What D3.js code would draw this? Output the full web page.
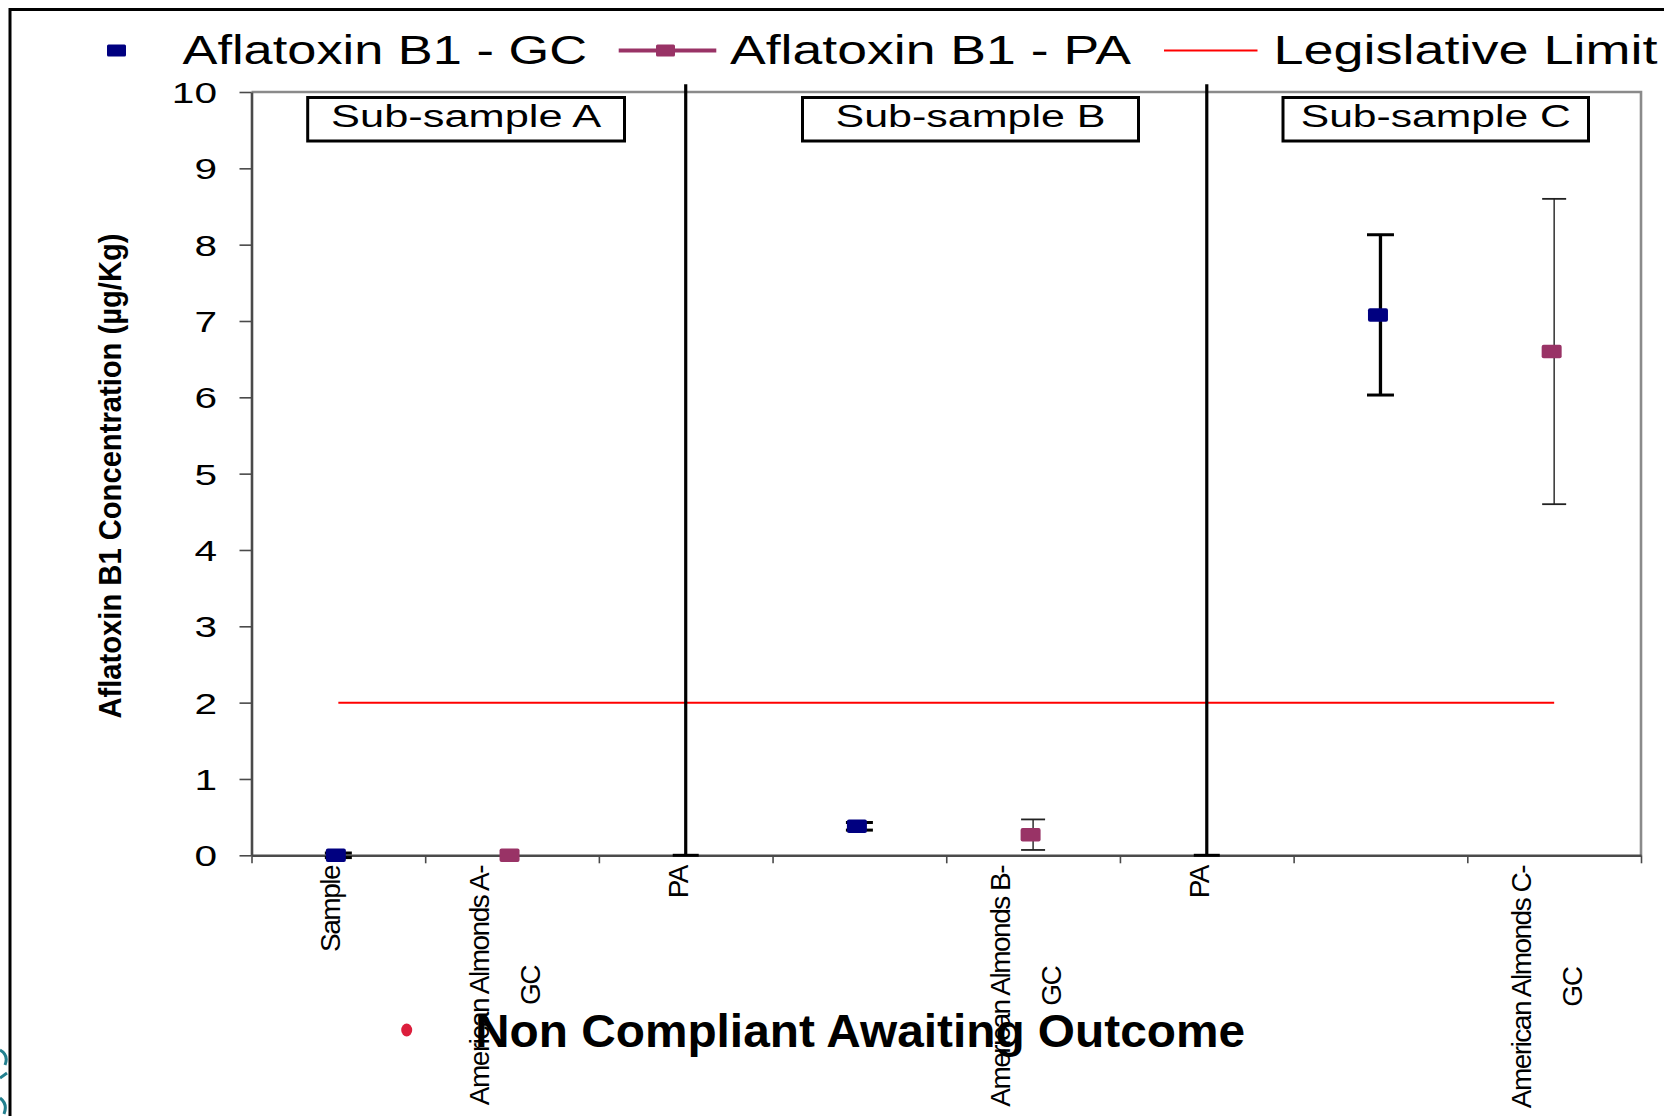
<!DOCTYPE html>
<html>
<head>
<meta charset="utf-8">
<script src="https://cdn.jsdelivr.net/npm/d3@7"></script>
<style>
  html, body { margin: 0; padding: 0; background: #fff; }
  svg { display: block; }
  text { font-family: Arial, "Liberation Sans", Helvetica, sans-serif; fill: #000; }
</style>
</head>
<body>
<svg id="chart" width="1664" height="1116"></svg>
<script>
// ---- data ----
const categoryLabels = [
  ["Sample"],
  ["American Almonds A-", "GC"],
  ["PA"],
  [],
  ["American Almonds B-", "GC"],
  ["PA"],
  [],
  ["American Almonds C-", "GC"]
];
const gcCategory = [0, 3, 6];
const gcValues   = [0, 0.38, 7.08];
const gcErrors   = [0.03, 0.05, 1.05];

const paCategory = [1, 4, 7];
const paValues   = [0, 0.27, 6.6];
const paErrors   = [0, 0.2, 2.0];

// sub-sample separators (drawn as zero-valued points with a plus-only error bar)
const dividerCategory = [2, 5];
const dividerValues   = [0, 0];
const dividerErrors   = [10.1, 10.1];

const legislativeLimit = 2;
const yTickValues = [0, 1, 2, 3, 4, 5, 6, 7, 8, 9, 10];
const subSampleLabels = ["Sub-sample A", "Sub-sample B", "Sub-sample C"];
const legendLabels = ["Aflatoxin B1 - GC", "Aflatoxin B1 - PA", "Legislative Limit"];
const yAxisTitle = "Aflatoxin B1 Concentration (µg/Kg)";
const noteText = "Non Compliant Awaiting Outcome";

// ---- layout ----
const COLORS = { gc: "#000080", pa: "#993366", limit: "#ff0000", axis: "#4a4a4a", border: "#8a8a8a", note: "#dc1e3c" };
const plot = { left: 251.5, right: 1641, top: 92, bottom: 855.3 };
const subSampleBoxes = [[307.7, 624.5], [802.5, 1138.5], [1283, 1588.5]];
const subSampleBoxY = [97.5, 141];

const svg = d3.select("#chart");

const x = d3.scaleBand().domain(d3.range(categoryLabels.length)).range([plot.left, plot.right]).padding(0);
const xEdge = d3.scaleLinear().domain([0, categoryLabels.length]).range([plot.left, plot.right]);
const y = d3.scaleLinear().domain([0, 10]).range([plot.bottom, plot.top]);
const cx = i => x(i) + x.bandwidth() / 2;

// outer frame of the slide panel
svg.append("rect")
  .attr("x", 10).attr("y", 9.5).attr("width", 2000).attr("height", 2000)
  .attr("fill", "none").attr("stroke", "#000").attr("stroke-width", 3);

// plot border (top & right)
svg.append("path")
  .attr("d", `M${plot.left},${plot.top}H${plot.right}V${plot.bottom}`)
  .attr("fill", "none").attr("stroke", COLORS.border).attr("stroke-width", 2.6);

// y axis
const gy = svg.append("g")
  .attr("transform", `translate(${plot.left},0)`)
  .call(d3.axisLeft(y).tickValues(yTickValues).tickSize(12).tickSizeOuter(0).tickFormat(d3.format("d")));
gy.select(".domain").attr("stroke", COLORS.axis).attr("stroke-width", 2.6);
gy.selectAll(".tick line").attr("stroke", COLORS.axis).attr("stroke-width", 1.6);
gy.selectAll(".tick text")
  .attr("x", null).attr("dy", "0.36em")
  .attr("text-anchor", "end")
  .attr("font-size", 29)
  .attr("fill", "#000")
  .attr("transform", "translate(-34.5,0) scale(1.4,1)");

// x axis (ticks on category boundaries)
const gx = svg.append("g")
  .attr("transform", `translate(0,${plot.bottom})`)
  .call(d3.axisBottom(xEdge).tickValues(d3.range(categoryLabels.length + 1)).tickSize(8).tickSizeOuter(0).tickFormat(""));
gx.select(".domain").attr("stroke", COLORS.axis).attr("stroke-width", 2.6);
gx.selectAll(".tick line").attr("stroke", COLORS.axis).attr("stroke-width", 1.6);

// rotated multi-line category labels (tight letter spacing)
const labelFont = 28, lineGap = 51, labelTop = 866;
categoryLabels.forEach((lines, i) => {
  if (!lines.length) return;
  const g = svg.append("g");
  const texts = lines.map(ln => g.append("text")
    .attr("font-size", labelFont)
    .attr("letter-spacing", -1.5)
    .attr("text-anchor", "middle")
    .text(ln));
  const longest = d3.max(texts, t => t.node().getComputedTextLength());
  const yc = labelTop + longest / 2;
  texts.forEach((t, k) => {
    const bx = cx(i) + 2 + (k - (lines.length - 1) / 2) * lineGap;
    t.attr("transform", `translate(${bx},${yc}) rotate(-90)`);
  });
});

// legislative limit
svg.append("line")
  .attr("x1", cx(0)).attr("x2", cx(categoryLabels.length - 1))
  .attr("y1", y(legislativeLimit)).attr("y2", y(legislativeLimit))
  .attr("stroke", COLORS.limit).attr("stroke-width", 2);

// sub-sample separators
dividerCategory.forEach((c, i) => {
  const xx = cx(c);
  svg.append("line").attr("x1", xx).attr("x2", xx)
    .attr("y1", y(dividerValues[i])).attr("y2", y(dividerValues[i] + dividerErrors[i]))
    .attr("stroke", "#000").attr("stroke-width", 3.2);
  svg.append("line").attr("x1", xx - 13).attr("x2", xx + 13)
    .attr("y1", y(dividerValues[i])).attr("y2", y(dividerValues[i]))
    .attr("stroke", "#000").attr("stroke-width", 3);
});

// error bars
function errorBars(cats, vals, errs, opt) {
  cats.forEach((c, i) => {
    if (!errs[i]) return;
    const xx = cx(c), lo = y(vals[i] - errs[i]), hi = y(vals[i] + errs[i]);
    const g = svg.append("g").attr("stroke", opt.color);
    g.append("line").attr("x1", xx).attr("x2", xx).attr("y1", lo).attr("y2", hi).attr("stroke-width", opt.w);
    [lo, hi].forEach(yy => g.append("line")
      .attr("x1", xx - opt.cap).attr("x2", xx + opt.cap).attr("y1", yy).attr("y2", yy)
      .attr("stroke-width", opt.capW));
  });
}
errorBars(gcCategory, gcValues, gcErrors, { color: "#000", w: 3.3, cap: 13.5, capW: 3 });
errorBars(paCategory, paValues, paErrors, { color: "#222", w: 1.4, cap: 12, capW: 1.8 });

// markers
const MW = 20, MH = 13.5;
function markers(cats, vals, color) {
  svg.append("g").selectAll("rect").data(cats).join("rect")
    .attr("x", (c) => cx(c) - 2.5 - MW / 2)
    .attr("y", (c, i) => y(vals[i]) - MH / 2)
    .attr("width", MW).attr("height", MH).attr("rx", 2)
    .attr("fill", color);
}
markers(gcCategory, gcValues, COLORS.gc);
markers(paCategory, paValues, COLORS.pa);

// sub-sample boxes
subSampleLabels.forEach((lbl, i) => {
  const [x0, x1] = subSampleBoxes[i];
  svg.append("rect")
    .attr("x", x0).attr("y", subSampleBoxY[0])
    .attr("width", x1 - x0).attr("height", subSampleBoxY[1] - subSampleBoxY[0])
    .attr("fill", "#fff").attr("stroke", "#000").attr("stroke-width", 3);
  svg.append("text")
    .attr("x", (x0 + x1) / 2 - 135).attr("y", 127)
    .attr("font-size", 31)
    .attr("textLength", 270).attr("lengthAdjust", "spacingAndGlyphs")
    .text(lbl);
});

// y axis title
svg.append("text")
  .attr("transform", "translate(121,476) rotate(-90)")
  .attr("text-anchor", "middle")
  .attr("font-size", 31).attr("font-weight", "bold")
  .attr("textLength", 485).attr("lengthAdjust", "spacingAndGlyphs")
  .text(yAxisTitle);

// legend
const legY = 50.5;
svg.append("rect").attr("x", 107).attr("y", legY - 6).attr("width", 19).attr("height", 12).attr("rx", 1.5).attr("fill", COLORS.gc);
svg.append("line").attr("x1", 618.7).attr("x2", 716.3).attr("y1", legY).attr("y2", legY)
  .attr("stroke", COLORS.pa).attr("stroke-width", 4);
svg.append("rect").attr("x", 656).attr("y", legY - 6).attr("width", 19).attr("height", 12).attr("rx", 1.5).attr("fill", COLORS.pa);
svg.append("line").attr("x1", 1164).attr("x2", 1257.5).attr("y1", legY).attr("y2", legY)
  .attr("stroke", COLORS.limit).attr("stroke-width", 2);
const legendText = [[182.5, 404.5], [730, 401], [1273.4, 384]];
legendLabels.forEach((lbl, i) => {
  svg.append("text")
    .attr("x", legendText[i][0]).attr("y", 63.5)
    .attr("font-size", 40)
    .attr("textLength", legendText[i][1]).attr("lengthAdjust", "spacingAndGlyphs")
    .text(lbl);
});

// note below the chart
svg.append("ellipse").attr("cx", 406.7).attr("cy", 1030).attr("rx", 5.5).attr("ry", 6.5).attr("fill", COLORS.note);
svg.append("text")
  .attr("x", 475).attr("y", 1047)
  .attr("font-size", 46).attr("font-weight", "bold")
  .attr("textLength", 770).attr("lengthAdjust", "spacingAndGlyphs")
  .text(noteText);

// logo fragment at the lower-left edge
svg.append("path")
  .attr("d", "M0,1050 q9,5 5,15 M0,1078 l7,-5 M0,1098 q8,6 4,16")
  .attr("fill", "none").attr("stroke", "#23808f").attr("stroke-width", 3);
</script>
</body>
</html>
